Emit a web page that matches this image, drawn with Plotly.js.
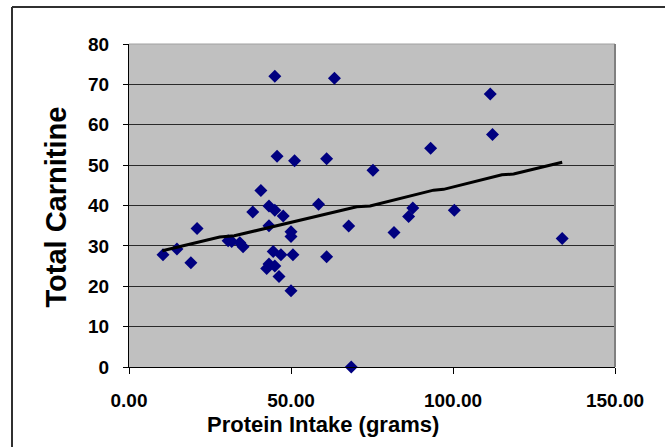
<!DOCTYPE html>
<html>
<head>
<meta charset="utf-8">
<script src="https://cdn.plot.ly/plotly-3.0.1.min.js"></script>
<style>html,body{margin:0;padding:0;background:#fff;overflow:hidden;width:665px;height:447px;}#chart{width:665px;height:447px;overflow:hidden;}</style>
</head>
<body>
<div id="chart"></div>
<script>
// Data
const proteinIntake = [10.5, 14.8, 19.1, 21.0, 30.6, 31.7, 34.2, 35.2, 38.2, 40.7,
  43.2, 45.0, 47.6, 43.2, 44.5, 46.9, 50.6, 42.5, 43.2, 45.0,
  46.3, 50.0, 50.0, 50.0, 45.0, 45.7, 51.1, 61.0, 63.4, 58.5,
  61.0, 67.8, 68.6, 75.3, 81.8, 86.3, 87.6, 93.1, 100.4, 111.5,
  112.2, 133.7];
const totalCarnitine = [27.8, 29.2, 25.8, 34.3, 31.3, 31.1, 30.8, 29.8, 38.4, 43.7,
  39.9, 38.8, 37.4, 35.0, 28.6, 27.8, 27.8, 24.4, 25.5, 25.0,
  22.4, 18.9, 33.5, 32.3, 72.0, 52.2, 51.1, 51.6, 71.5, 40.3,
  27.3, 34.9, 0, 48.7, 33.3, 37.3, 39.4, 54.2, 38.8, 67.6,
  57.6, 31.8];
// Trend line as drawn in the reference
const trendX = [10.3, 28.0, 32.5, 49.7, 51.5, 70.3, 74.4, 94.0, 97.1, 115.1, 118.7, 133.7];
const trendY = [28.8, 32.2, 32.5, 35.8, 36.0, 39.7, 39.9, 43.8, 44.0, 47.6, 47.8, 50.7];
const xTickVals = [0, 50, 100, 150];
const yTickVals = [0, 10, 20, 30, 40, 50, 60, 70, 80];

const FONT = 'Arial, "Liberation Sans", sans-serif';

const traces = [
  {
    x: proteinIntake, y: totalCarnitine, type: 'scatter', mode: 'markers',
    marker: {symbol: 'diamond', size: 10, color: '#000080', line: {width: 0}},
    cliponaxis: false, hoverinfo: 'skip'
  },
  {
    x: trendX, y: trendY, type: 'scatter', mode: 'lines',
    line: {color: '#000000', width: 3}, hoverinfo: 'skip'
  }
];

const pw = 486, ph = 323, L = 129, T = 44;
function px2x(p) { return (p - L) / pw; }
function py2y(p) { return (T + ph - p) / ph; }

const layout = {
  width: 665, height: 447,
  margin: {l: L, r: 665 - L - pw, t: T, b: 447 - T - ph, pad: 0},
  paper_bgcolor: '#ffffff',
  plot_bgcolor: '#C0C0C0',
  showlegend: false,
  hovermode: false,
  font: {family: FONT, color: '#000'},
  xaxis: {
    range: [0, 150], tickvals: xTickVals, tickformat: '.2f',
    showgrid: false, zeroline: false,
    showline: true, linecolor: '#000', linewidth: 1,
    ticks: 'outside', ticklen: 6, tickcolor: '#000', tickwidth: 1,
    tickfont: {family: FONT, size: 19, weight: 'bold', color: '#000'},
    ticklabelstandoff: 10
  },
  yaxis: {
    range: [0, 80], tickvals: yTickVals,
    showgrid: true, gridcolor: '#2a2a2a', gridwidth: 1, zeroline: false,
    showline: true, linecolor: '#000', linewidth: 1,
    ticks: 'outside', ticklen: 5, tickcolor: '#000', tickwidth: 1,
    tickfont: {family: FONT, size: 19, weight: 'bold', color: '#000'},
    ticklabelstandoff: 10
  },
  shapes: [
    // plot-area top and right borders
    {type: 'line', xref: 'paper', yref: 'paper', x0: 0, x1: 1, y0: 1, y1: 1, line: {color: '#A0A0A0', width: 1}},
    {type: 'line', xref: 'paper', yref: 'paper', x0: 1, x1: 1, y0: 0, y1: 1, line: {color: '#808080', width: 2}},
    // outer chart border (left and top edges visible)
    {type: 'line', xref: 'paper', yref: 'paper', x0: px2x(12), x1: px2x(12), y0: py2y(7), y1: py2y(447),
     line: {color: '#303030', width: 2}},
    {type: 'line', xref: 'paper', yref: 'paper', x0: px2x(12), x1: px2x(665), y0: py2y(7), y1: py2y(7),
     line: {color: '#303030', width: 2}}
  ],
  annotations: [
    {text: 'Total Carnitine', xref: 'paper', yref: 'paper', x: px2x(55), y: py2y(207.5),
     xanchor: 'center', yanchor: 'middle', textangle: -90, showarrow: false,
     font: {family: FONT, size: 29, weight: 'bold', color: '#000'}},
    {text: 'Protein Intake (grams)', xref: 'paper', yref: 'paper', x: px2x(322.8), y: py2y(424),
     xanchor: 'center', yanchor: 'middle', showarrow: false,
     font: {family: FONT, size: 22, weight: 'bold', color: '#000'}}
  ]
};

Plotly.newPlot('chart', traces, layout, {staticPlot: true, displayModeBar: false});
</script>
</body>
</html>
